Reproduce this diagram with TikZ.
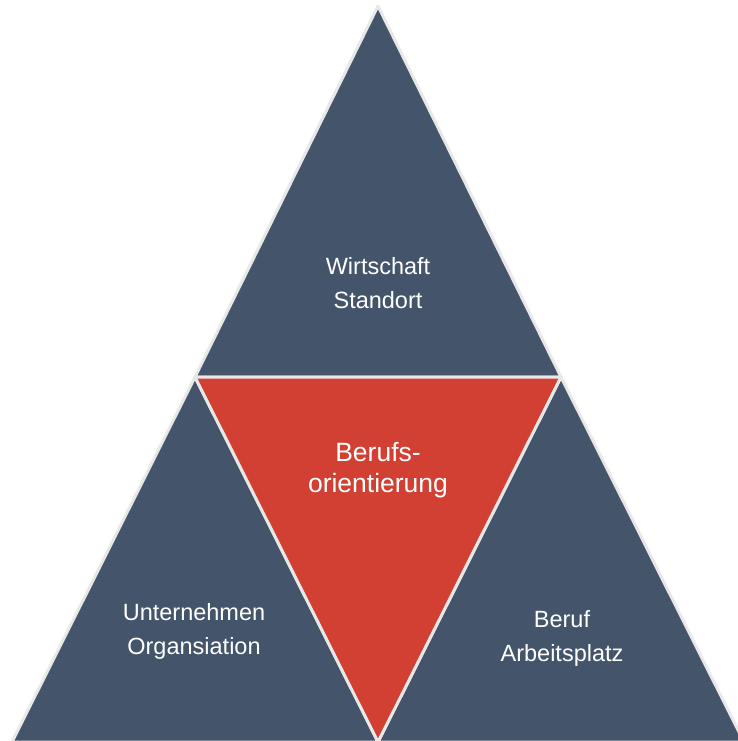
\documentclass[tikz,border=0pt]{standalone}
\usepackage{fontspec}
\setmainfont{Liberation Sans}
\definecolor{slate}{RGB}{68,84,106}
\definecolor{brick}{RGB}{209,64,50}
\definecolor{seam}{RGB}{232,232,232}
\newcommand{\lbl}{\fontsize{23.5}{34}\selectfont}
\newcommand{\lblbig}{\fontsize{26.5}{31}\selectfont}

\begin{document}
\begin{tikzpicture}[x=1pt,y=-1pt,
	part/.style={fill=#1,draw=seam,line width=3pt,line join=round},
	txt/.style={text=white,align=center,inner sep=0pt,font=\lbl}]
	\useasboundingbox (0,0) rectangle (738,741);
	\clip (0,0) rectangle (738,741);
	\coordinate (top) at (378,6);
	\coordinate (ml) at (195,377);
	\coordinate (mr) at (561,377);
	\coordinate (bl) at (12,742);
	\coordinate (bm) at (378,742);
	\coordinate (br) at (744,742);
	
	\path[part=slate] (top)--(ml)--(mr)--cycle;
	\path[part=slate] (ml)--(bl)--(bm)--cycle;
	\path[part=slate] (mr)--(bm)--(br)--cycle;
	\path[part=brick] (ml)--(mr)--(bm)--cycle;
	
	\node[txt] at (378,283)(wi){Wirtschaft\\Standort};
	\node[txt,font=\lblbig] at (378,470)(bo){Berufs-\\orientierung};
	\node[txt] at (194,631)(un){Unternehmen\\Organsiation};
	\node[txt] at (562,638)(ar){Beruf\\Arbeitsplatz};
\end{tikzpicture}
\end{document}
